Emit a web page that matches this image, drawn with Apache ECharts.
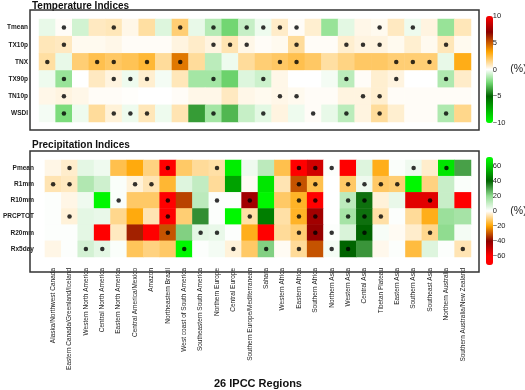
<!DOCTYPE html>
<html>
<head>
<meta charset="utf-8">
<script src="https://cdn.jsdelivr.net/npm/echarts@6/dist/echarts.min.js"></script>
<style>
html, body { margin: 0; padding: 0; background: #fff; }
#main { width: 525px; height: 390px; }
</style>
</head>
<body>
<div id="main"></div>
<script>
var regions = ['Alaska/Northwest Canada', 'Eastern Canada/Greenland/Iceland', 'Western North America',
    'Central North America', 'Eastern North America', 'Central America/Mexico', 'Amazon',
    'Northeastern Brazil', 'West coast of South America', 'Southeastern South America',
    'Northern Europe', 'Central Europe', 'Southern Europe/Mediterranean', 'Sahara',
    'Western Africa', 'Eastern Africa', 'Southern Africa', 'Northern Asia', 'Western Asia',
    'Central Asia', 'Tibetan Plateau', 'Eastern Asia', 'Southern Asia', 'Southeast Asia',
    'Northern Australia', 'Southern Australia/New Zealand'];
var tempIndices = ['Tmean', 'TX10p', 'TNX', 'TX90p', 'TN10p', 'WSDI'];
var precipIndices = ['Pmean', 'R1mm', 'R10mm', 'PRCPTOT', 'R20mm', 'Rx5day'];

// temperature indices (%), one value per region
var tmean = [-0.4, 0.1, -0.8, 0.8, 0.9, 0.3, 1.2, -0.6, 1.8, -0.4, -1.3, -2.5, -1.0, -0.3, 0.7, 0.1, 0.6, -1.8, -0.5, 0.3, 0.2, 0.8, -0.3, 0.4, -1.8, 0.9];
var tx10p = [0.9, 0.8, 0.2, 0.2, 0.3, 0.1, 0.1, 0.1, 0.4, 0.7, 0.4, 1.0, 0.3, 0.1, 0.2, 1.3, 0.1, 0.1, 0.6, 0.4, 0.4, 0.2, 0.6, 0.2, 0.9, 0.2];
var tnx = [1.2, -0.4, 1.8, 2.3, 2.0, 2.2, 2.6, 1.3, 4.3, 1.3, -1.2, -0.3, 1.3, 1.8, 2.0, 2.3, 2.0, 1.2, 1.6, 2.0, 2.0, 1.8, 1.8, 1.8, -0.4, 3.0];
var tx90p = [-0.3, -1.8, 0, 0.8, 0.4, -0.3, 0.6, -0.2, 0.9, -1.6, -1.6, -2.6, -0.6, -0.9, 0.3, 0, 0, -0.2, -1.2, 0.1, 0.6, 0.4, 0, 0, -1.4, 0.7];
var tn10p = [0.3, 0.4, 0.3, 0.1, 0.1, 0.05, 0, 0, 0.1, 0.3, 0.3, 0.8, 0.3, 0.2, 0.3, 0.2, 0.1, 0.1, 0.4, 0.4, 0.6, 0.1, 0.1, 0.1, 0.1, 0.1];
var wsdi = [-0.2, -2.3, -0.3, 1.3, 0.5, -0.3, 0.9, -0.3, 1.0, -3.8, -1.6, -3.2, -1.0, -0.5, 0.4, -0.3, 0.1, -0.4, -1.2, 0.4, 1.3, 0.6, 0.1, 0.1, -1.4, 1.5];

// precipitation indices (%)
var pmean = [-2, -4, 5, 3, -14, -19, -10, -65, -12, -8, -7, 68, 3, 12, -14, -62, -52, 0.5, -62, 6, -18, 1, 3, -4, 66, 30];
var r1mm = [-6, -5, 14, 9, 1, -3, -6, -16, 6, 11, -8, 52, -1, 66, -6, -30, -14, 0, -12, 3, -12, -11, 70, -10, 10, 1];
var r10mm = [0.5, -2, 3, 70, 1, -12, -12, -65, -32, 12, 0.5, 0.5, -44, 70, -12, -17, -63, 0, 12, 38, -3, 4, -55, -55, 10, -65];
var prcptot = [0.5, -3, 5, 4, -9, -19, -6, -65, -11, 33, 0.5, 70, -7, 45, -7, -17, -44, 0, 16, 38, -7, 0.5, -8, -18, 18, 16];
var r20mm = [0.5, 0.5, 5, -65, -5, -36, -63, -30, 22, 5, 4, 0.5, -18, -63, -8, -11, -42, 0.5, 7, 40, 1.5, -1, -4, -9, 20, 2];
var rx5day = [-2, 0.5, 8, 5, 1, -13, -10, -12, 70, 0.5, 2, -3, -12, 22, -1, -8, -30, 2, 40, 32, -1.5, 0.5, -15, 6, 0.5, -6];

// regions (column index) marked with a dot, per index row
var tempSig = [
    [1, 4, 8, 10, 12, 13, 14, 15, 20, 22],
    [1, 10, 11, 12, 15, 18, 19, 20, 24],
    [0, 3, 4, 6, 8, 14, 15, 21, 22, 23],
    [1, 4, 5, 6, 10, 13, 18, 21, 24],
    [1, 14, 15, 19, 20],
    [1, 4, 5, 6, 10, 13, 16, 18, 20, 24]
];
var precipSig = [
    [1, 7, 10, 15, 16, 17, 22, 24],
    [0, 1, 5, 6, 15, 16, 18, 19, 20, 21],
    [4, 7, 10, 12, 15, 16, 18, 19, 23],
    [1, 7, 12, 15, 16, 18, 19, 20],
    [7, 9, 10, 15, 16, 17, 19, 23],
    [2, 3, 8, 11, 13, 15, 17, 18, 25]
];

var tempTicks = [-10, -5, 0, 5, 10];
var precipTicks = [-60, -40, -20, 0, 20, 40, 60];

var FONT = '"Liberation Sans", Arial, sans-serif';

function toCells(rows) {
    var out = [];
    rows.forEach(function (r, j) {
        r.forEach(function (v, i) { out.push([i, j, v]); });
    });
    return out;
}
function toDots(sig) {
    var out = [];
    sig.forEach(function (cols, j) {
        cols.forEach(function (i) { out.push([i, j]); });
    });
    return out;
}
// evenly spaced colour list from [value, colour] stops
function ramp(stops, n) {
    function rgb(h) { return [parseInt(h.substr(1, 2), 16), parseInt(h.substr(3, 2), 16), parseInt(h.substr(5, 2), 16)]; }
    var min = stops[0][0], max = stops[stops.length - 1][0], out = [];
    for (var k = 0; k < n; k++) {
        var v = min + (max - min) * k / (n - 1);
        var s = 0;
        while (s < stops.length - 2 && v > stops[s + 1][0]) s++;
        var a = rgb(stops[s][1]), b = rgb(stops[s + 1][1]);
        var t = (v - stops[s][0]) / (stops[s + 1][0] - stops[s][0]);
        out.push('rgb(' + [0, 1, 2].map(function (c) { return Math.round(a[c] + (b[c] - a[c]) * t); }).join(',') + ')');
    }
    return out;
}
var tempColors = ramp([[-10, '#00ff00'], [-5, '#006400'], [-2.5, '#70d870'], [0, '#ffffff'], [3.3, '#ffa500'], [7, '#8b0000'], [10, '#ff0000']], 61);
var precipColors = ramp([[-72, '#ff0000'], [-60, '#ff0000'], [-40, '#8b0000'], [-20, '#ffa500'], [0, '#ffffff'], [20, '#90dc90'], [40, '#006400'], [60, '#00cc00'], [72, '#00ff00']], 73);

function minus(v) { return String(v).replace('-', '\u2212'); }

var chart = echarts.init(document.getElementById('main'));

var catY = function (grid, data) {
    return {
        gridIndex: grid, type: 'category', data: data, inverse: true, offset: 9,
        axisLine: { show: false },
        axisTick: { alignWithLabel: true, length: 3, lineStyle: { color: '#333' } },
        axisLabel: { fontSize: 6.5, fontWeight: 'bold', margin: 2, color: '#222', fontFamily: FONT }
    };
};
var barY = function (grid, min, max, ticks) {
    return {
        gridIndex: grid, type: 'value', min: min, max: max, position: 'right',
        axisLine: { show: false }, axisTick: { show: false }, splitLine: { show: false },
        axisLabel: { customValues: ticks, fontSize: 7.5, margin: 5, color: '#222', fontFamily: FONT, formatter: minus },
        name: '(%)', nameLocation: 'middle', nameRotate: 0, nameGap: 16,
        nameTextStyle: { fontSize: 10.5, color: '#222', fontFamily: FONT, align: 'left' }
    };
};

chart.setOption({
    animation: false,
    textStyle: { fontFamily: FONT },
    title: [
        { text: 'Temperature Indices', left: 32, top: 1, padding: 0, textStyle: { fontSize: 10, fontWeight: 'bold', color: '#111', fontFamily: FONT } },
        { text: 'Precipitation Indices', left: 32, top: 140, padding: 0, textStyle: { fontSize: 10, fontWeight: 'bold', color: '#111', fontFamily: FONT } }
    ],
    graphic: [
        { type: 'rect', shape: { x: 30, y: 10, width: 449, height: 120 }, style: { fill: 'none', stroke: '#333', lineWidth: 1.5 }, z: 10 },
        { type: 'rect', shape: { x: 30, y: 151, width: 449, height: 121 }, style: { fill: 'none', stroke: '#333', lineWidth: 1.5 }, z: 10 }
    ],
    grid: [
        { left: 39, top: 19, width: 432, height: 103 },
        { left: 39, top: 160, width: 432, height: 104 },
        { left: 486, top: 16, width: 7, height: 107 },
        { left: 486, top: 157, width: 7, height: 108 }
    ],
    xAxis: [
        { gridIndex: 0, type: 'category', data: regions, axisLine: { show: false }, axisTick: { show: false }, axisLabel: { show: false } },
        {
            gridIndex: 1, type: 'category', data: regions, offset: 8,
            axisLine: { show: false },
            axisTick: { alignWithLabel: true, length: 3, lineStyle: { color: '#333' } },
            axisLabel: { rotate: 90, interval: 0, fontSize: 6.5, margin: 3, color: '#222', fontFamily: FONT },
            name: '26 IPCC Regions', nameLocation: 'middle', nameGap: 113,
            nameTextStyle: { fontSize: 11, fontWeight: 'bold', color: '#111', fontFamily: FONT }
        },
        { gridIndex: 2, type: 'value', show: false },
        { gridIndex: 3, type: 'value', show: false }
    ],
    yAxis: [
        catY(0, tempIndices),
        catY(1, precipIndices),
        barY(2, -10, 10, tempTicks),
        barY(3, -72, 72, precipTicks)
    ],
    visualMap: [
        {
            type: 'continuous', seriesIndex: 0, min: -10, max: 10, calculable: false,
            left: 486, top: 16, itemWidth: 7, itemHeight: 107, padding: 0, showLabel: false,
            inRange: { color: tempColors }
        },
        {
            type: 'continuous', seriesIndex: 2, min: -72, max: 72, calculable: false,
            left: 486, top: 157, itemWidth: 7, itemHeight: 108, padding: 0, showLabel: false,
            inRange: { color: precipColors }
        }
    ],
    series: [
        { type: 'heatmap', xAxisIndex: 0, yAxisIndex: 0, data: toCells([tmean, tx10p, tnx, tx90p, tn10p, wsdi]) },
        { type: 'scatter', xAxisIndex: 0, yAxisIndex: 0, symbolSize: 4.5, itemStyle: { color: '#000' }, data: toDots(tempSig) },
        { type: 'heatmap', xAxisIndex: 1, yAxisIndex: 1, data: toCells([pmean, r1mm, r10mm, prcptot, r20mm, rx5day]) },
        { type: 'scatter', xAxisIndex: 1, yAxisIndex: 1, symbolSize: 4.5, itemStyle: { color: '#000' }, data: toDots(precipSig) }
    ]
});
</script>
</body>
</html>
